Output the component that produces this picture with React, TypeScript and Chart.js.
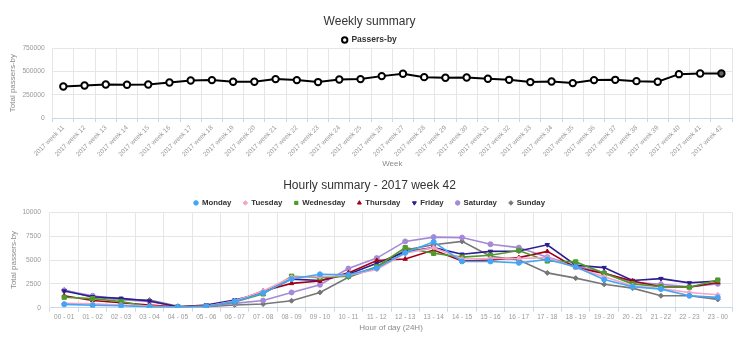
import React, { useEffect, useRef } from "react";
import { Chart, registerables } from "chart.js";

Chart.register(...registerables);

const weekLabels = [
  "2017 week 11", "2017 week 12", "2017 week 13", "2017 week 14", "2017 week 15", "2017 week 16",
  "2017 week 17", "2017 week 18", "2017 week 19", "2017 week 20", "2017 week 21", "2017 week 22",
  "2017 week 23", "2017 week 24", "2017 week 25", "2017 week 26", "2017 week 27", "2017 week 28",
  "2017 week 29", "2017 week 30", "2017 week 31", "2017 week 32", "2017 week 33", "2017 week 34",
  "2017 week 35", "2017 week 36", "2017 week 37", "2017 week 38", "2017 week 39", "2017 week 40",
  "2017 week 41", "2017 week 42",
];
const weeklyPassers = [
  338000, 349000, 360000, 357000, 360000, 381000, 403000, 407000, 389000, 389000, 418000, 407000,
  386000, 414000, 418000, 450000, 475000, 439000, 432000, 435000, 421000, 410000, 386000, 392000,
  375000, 407000, 410000, 396000, 389000, 471000, 478000, 478000,
];
const weeklyTicks = [0, 250000, 500000, 750000];

const hourLabels = [
  "00 - 01", "01 - 02", "02 - 03", "03 - 04", "04 - 05", "05 - 06", "06 - 07", "07 - 08",
  "08 - 09", "09 - 10", "10 - 11", "11 - 12", "12 - 13", "13 - 14", "14 - 15", "15 - 16",
  "16 - 17", "17 - 18", "18 - 19", "19 - 20", "20 - 21", "21 - 22", "22 - 23", "23 - 00",
];
const monday = [350, 250, 200, 100, 80, 150, 650, 1550, 3000, 3500, 3450, 4150, 5750, 6900, 4850, 4850, 4700, 5050, 4300, 2950, 2200, 1950, 1250, 1080];
const tuesday = [450, 400, 280, 170, 50, 150, 700, 1750, 3200, 3250, 3400, 4000, 5700, 6300, 5100, 5150, 5150, 5250, 4200, 3250, 2300, 2000, 1600, 1350];
const wednesday = [1100, 950, 650, 100, 100, 150, 600, 1450, 3300, 3150, 3300, 4300, 6300, 5700, 5300, 5500, 6000, 4900, 4800, 3600, 2500, 2200, 2150, 2900];
const thursday = [1250, 750, 520, 280, 80, 200, 650, 1750, 2550, 2800, 3650, 4950, 5100, 6050, 4900, 5000, 5250, 5900, 4200, 3600, 2800, 2200, 2150, 2650];
const friday = [1750, 1150, 980, 700, 100, 280, 800, 1550, 3000, 2850, 3500, 4650, 5850, 6300, 5600, 5900, 5950, 6600, 4450, 4200, 2850, 3050, 2600, 2800];
const saturday = [1800, 1250, 850, 650, 100, 150, 450, 750, 1600, 2400, 4100, 5200, 6950, 7400, 7350, 6650, 6300, 5300, 4400, 3650, 2650, 2450, 2200, 2500];
const sunday = [1850, 1100, 870, 800, 150, 100, 280, 380, 730, 1600, 3200, 4250, 6050, 6600, 6950, 5400, 5000, 3650, 3100, 2450, 2050, 1250, 1260, 870];
const hourlyTicks = [0, 2500, 5000, 7500, 10000];

const FONT = "'Liberation Sans', Arial, Helvetica, sans-serif";
const GRID = "#e6e6e6";
const AXIS = "#ccd6eb";
const TICK = "#999999";
const AXIS_TITLE = "#8a8a8a";

function legendHeightPlugin(h: number) {
  return {
    id: "legendHeight",
    beforeLayout(chart: any) {
      const lg = chart.legend;
      if (lg && !lg.__patched) {
        const orig = lg.fit.bind(lg);
        lg.fit = () => {
          orig();
          lg.height = h;
        };
        lg.__patched = true;
      }
    },
  };
}

const plainNumber = (v: any) => String(v);

function WeeklyChart() {
  const ref = useRef<HTMLCanvasElement | null>(null);
  useEffect(() => {
    if (!ref.current) return;
    const chart = new Chart(ref.current, {
      type: "line",
      data: {
        labels: weekLabels,
        datasets: [
          {
            label: "Passers-by",
            data: weeklyPassers,
            borderColor: "#000000",
            borderWidth: 2,
            pointBackgroundColor: weeklyPassers.map((_, i) => (i === weeklyPassers.length - 1 ? "#666666" : "#ffffff")),
            pointBorderColor: "#000000",
            pointBorderWidth: 2,
            pointRadius: 3.2,
            tension: 0,
          },
        ],
      },
      options: {
        responsive: false,
        animation: false,
        devicePixelRatio: 1,
        layout: { padding: { left: 7, right: 7, top: 0, bottom: 0 } },
        plugins: {
          title: {
            display: true,
            text: "Weekly summary",
            color: "#333333",
            font: { family: FONT, size: 12, weight: "normal" },
            padding: { top: 14.8, bottom: 0.5 },
          },
          legend: {
            display: true,
            labels: {
              usePointStyle: true,
              boxWidth: 5,
              boxHeight: 3.8,
              padding: 6,
              color: "#333333",
              font: { family: FONT, size: 8.5, weight: "bold" },
            },
          },
          tooltip: { enabled: false },
        },
        scales: {
          x: {
            type: "category",
            offset: true,
            grid: { offset: true, color: GRID, tickColor: AXIS, tickLength: 4, drawTicks: true },
            border: { color: AXIS, width: 1 },
            ticks: {
              autoSkip: false,
              minRotation: 45,
              maxRotation: 45,
              padding: 2,
              color: TICK,
              font: { family: FONT, size: 6.5 },
            },
            title: {
              display: true,
              text: "Week",
              color: AXIS_TITLE,
              font: { family: FONT, size: 8 },
              padding: 1,
            },
            afterFit: (s: any) => {
              s.height = 52;
            },
          },
          y: {
            min: 0,
            max: 750000,
            afterBuildTicks: (s: any) => {
              s.ticks = weeklyTicks.map((v) => ({ value: v }));
            },
            grid: { color: GRID, drawTicks: false },
            border: { display: false },
            ticks: {
              padding: 8,
              color: TICK,
              font: { family: FONT, size: 6.7 },
              callback: plainNumber,
            },
            title: {
              display: true,
              text: "Total passers-by",
              color: AXIS_TITLE,
              font: { family: FONT, size: 8 },
              padding: 1,
            },
            afterFit: (s: any) => {
              s.width = 45.7;
            },
          },
        },
      },
      plugins: [legendHeightPlugin(18.5)],
    } as any);
    return () => chart.destroy();
  }, []);
  return <canvas ref={ref} width={739} height={170} style={{ display: "block", width: 739, height: 170 }} />;
}

const hourlySeries = [
  { label: "Monday", data: monday, color: "#42a5f5", style: "circle", rotation: 0 },
  { label: "Tuesday", data: tuesday, color: "#f5a3c7", style: "rectRot", rotation: 0 },
  { label: "Wednesday", data: wednesday, color: "#4e9a2a", style: "rect", rotation: 0 },
  { label: "Thursday", data: thursday, color: "#a30015", style: "triangle", rotation: 0 },
  { label: "Friday", data: friday, color: "#2c1d90", style: "triangle", rotation: 180 },
  { label: "Saturday", data: saturday, color: "#a48ad6", style: "circle", rotation: 0 },
  { label: "Sunday", data: sunday, color: "#777777", style: "rectRot", rotation: 0 },
];

function HourlyChart() {
  const ref = useRef<HTMLCanvasElement | null>(null);
  useEffect(() => {
    if (!ref.current) return;
    const chart = new Chart(ref.current, {
      type: "line",
      data: {
        labels: hourLabels,
        datasets: hourlySeries.map((s) => ({
          label: s.label,
          data: s.data,
          borderColor: s.color,
          backgroundColor: s.color,
          borderWidth: 1.6,
          pointBackgroundColor: s.color,
          pointBorderColor: s.color,
          pointBorderWidth: 1,
          pointStyle: s.style,
          pointRotation: s.rotation,
          pointRadius: s.style === "rect" ? 3 : 2.5,
          tension: 0,
        })),
      },
      options: {
        responsive: false,
        animation: false,
        devicePixelRatio: 1,
        layout: { padding: { left: 7, right: 7, top: 0, bottom: 0 } },
        plugins: {
          title: {
            display: true,
            text: "Hourly summary - 2017 week 42",
            color: "#333333",
            font: { family: FONT, size: 12, weight: "normal" },
            padding: { top: 8, bottom: -5.4 },
          },
          legend: {
            display: true,
            labels: {
              usePointStyle: true,
              boxWidth: 4,
              boxHeight: 3.2,
              padding: 12,
              color: "#333333",
              font: { family: FONT, size: 7.8, weight: "bold" },
            },
          },
          tooltip: { enabled: false },
        },
        scales: {
          x: {
            type: "category",
            offset: true,
            grid: { offset: true, color: GRID, tickColor: AXIS, tickLength: 4, drawTicks: true },
            border: { color: AXIS, width: 1 },
            ticks: {
              autoSkip: false,
              minRotation: 0,
              maxRotation: 0,
              padding: 2,
              color: TICK,
              font: { family: FONT, size: 6.5 },
            },
            title: {
              display: true,
              text: "Hour of day (24H)",
              color: AXIS_TITLE,
              font: { family: FONT, size: 8 },
              padding: 9,
            },
            afterFit: (s: any) => {
              s.height = 34.3;
            },
          },
          y: {
            min: 0,
            max: 10000,
            afterBuildTicks: (s: any) => {
              s.ticks = hourlyTicks.map((v) => ({ value: v }));
            },
            grid: { color: GRID, drawTicks: false },
            border: { display: false },
            ticks: {
              padding: 9,
              color: TICK,
              font: { family: FONT, size: 6.7 },
              callback: plainNumber,
            },
            title: {
              display: true,
              text: "Total passers-by",
              color: AXIS_TITLE,
              font: { family: FONT, size: 8 },
              padding: 1.5,
            },
            afterFit: (s: any) => {
              s.width = 43;
            },
          },
        },
      },
      plugins: [legendHeightPlugin(25.3)],
    } as any);
    return () => chart.destroy();
  }, []);
  return <canvas ref={ref} width={739} height={172} style={{ display: "block", width: 739, height: 172 }} />;
}

export default function App() {
  return (
    <div style={{ position: "absolute", left: 0, top: 0, width: 739, height: 342, background: "#ffffff" }}>
      <WeeklyChart />
      <HourlyChart />
    </div>
  );
}
